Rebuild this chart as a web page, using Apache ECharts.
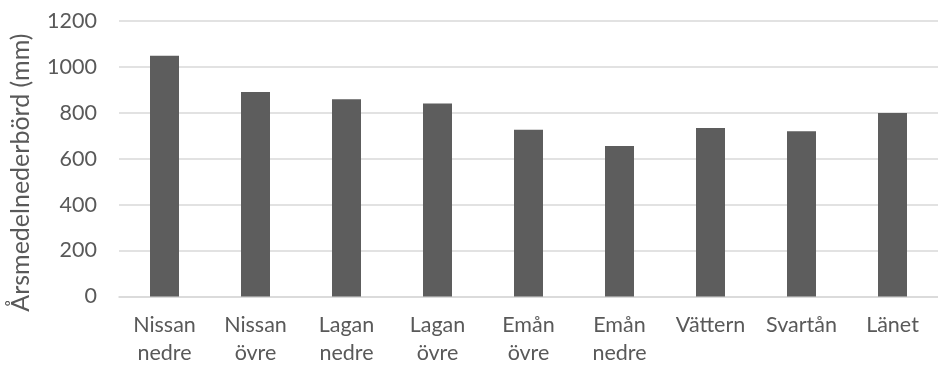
<!DOCTYPE html>
<html>
<head>
<meta charset="utf-8">
<script src="https://cdn.jsdelivr.net/npm/echarts@6/dist/echarts.min.js"></script>
<style>
html,body{margin:0;padding:0;background:#fff;}
#c{width:938px;height:368px;}
</style>
</head>
<body>
<div id="c"></div>
<script>
const categories = ['Nissan\nnedre','Nissan\növre','Lagan\nnedre','Lagan\növre','Emån\növre','Emån\nnedre','Vättern','Svartån','Länet'];
const values = [1047, 890, 858, 840, 726, 655, 733, 719, 798];
const yTicks = {min: 0, max: 1200, interval: 200};
const yTitle = 'Årsmedelnederbörd (mm)';

const chart = echarts.init(document.getElementById('c'), null, {renderer: 'canvas'});
const textColor = '#595959';
const fontFamily = 'Lato, "Open Sans", sans-serif';
chart.setOption({
  animation: false,
  grid: {left: 118.6, top: 20.7, width: 826, height: 275.8, containLabel: false},
  xAxis: {
    type: 'category',
    data: categories,
    axisTick: {show: false},
    axisLine: {show: true, lineStyle: {color: '#d9d9d9', width: 1.6}},
    axisLabel: {interval: 0, color: textColor, fontFamily: fontFamily, fontSize: 21.5, lineHeight: 28, margin: 15}
  },
  yAxis: {
    type: 'value',
    min: yTicks.min, max: yTicks.max, interval: yTicks.interval,
    name: yTitle,
    nameLocation: 'middle',
    nameGap: 86,
    nameTextStyle: {color: textColor, fontFamily: fontFamily, fontSize: 25, padding: [0, 28, 0, 0]},
    axisLine: {show: false},
    axisTick: {show: false},
    axisLabel: {color: textColor, fontFamily: fontFamily, fontSize: 21.5, margin: 22, formatter: function (v) { return String(v); }},
    splitLine: {lineStyle: {color: '#d9d9d9', width: 1.6}}
  },
  series: [{
    type: 'bar',
    data: values,
    barWidth: 29,
    itemStyle: {color: '#5d5d5d'}
  }]
});
</script>
</body>
</html>
